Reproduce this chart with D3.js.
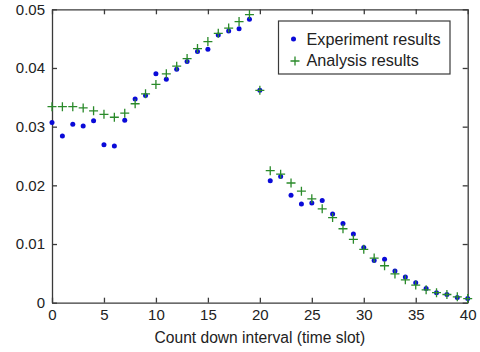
<!DOCTYPE html>
<html>
<head>
<meta charset="utf-8">
<script src="https://cdn.jsdelivr.net/npm/d3@7"></script>
<style>
  body { margin: 0; background: #fff; overflow: hidden; }
  svg { display: block; font-family: "Liberation Sans", Arial, sans-serif; }
</style>
</head>
<body>
<svg width="480" height="352"></svg>
<script>
const slots = d3.range(0, 41);
const experiment = [
    0.0307, 0.0284, 0.0304, 0.0301, 0.0310, 0.0269, 0.0267, 0.0311, 0.0347, 0.0353,
    0.0390, 0.0381, 0.0398, 0.0411, 0.0428, 0.0432, 0.0456, 0.0463, 0.0467, 0.0483,
    0.0362, 0.0208, 0.0215, 0.0183, 0.0168, 0.0170, 0.0174, 0.0151, 0.0135, 0.0117,
    0.0094, 0.0072, 0.0074, 0.0054, 0.0044, 0.0034, 0.0024, 0.0017, 0.0014, 0.0009,
    0.0007
];
const analysis = [
    0.0334, 0.0334, 0.0334, 0.0332, 0.0327, 0.0321, 0.0316, 0.0323, 0.0339, 0.0356,
    0.0372, 0.0390, 0.0403, 0.0416, 0.0433, 0.0445, 0.0459, 0.0468, 0.0479, 0.0491,
    0.0362, 0.0225, 0.0219, 0.0204, 0.0190, 0.0177, 0.0160, 0.0145, 0.0126, 0.0108,
    0.0091, 0.0076, 0.0063, 0.0049, 0.0039, 0.0030, 0.0022, 0.0017, 0.0014, 0.0010,
    0.0007
];
const xTicks = [0, 5, 10, 15, 20, 25, 30, 35, 40];
const yTicks = [0, 0.01, 0.02, 0.03, 0.04, 0.05];
const yTickLabels = ['0', '0.01', '0.02', '0.03', '0.04', '0.05'];
const seriesNames = ['Experiment results', 'Analysis results'];

const svg = d3.select('svg');
const width = Number(svg.attr('width')), height = Number(svg.attr('height'));
const margin = { left: 52, right: 12.3, top: 9.3, bottom: 49.3 };
const innerWidth = width - (margin.left + margin.right);
const innerHeight = height - (margin.top + margin.bottom);

const blue = '#0a0ad8', green = '#2a8a2a', axisColor = '#3a3a3a';

const xScale = d3.scaleLinear().domain([0, 40]).range([0, innerWidth]);
const yScale = d3.scaleLinear().domain([0, 0.05]).range([innerHeight, 0]);

const g = svg.append('g')
    .attr('transform', `translate(${margin.left},${margin.top})`);

const styleAxis = sel => {
    sel.attr('font-family', null).attr('font-size', 15);
    sel.selectAll('path, line').attr('stroke', axisColor).attr('stroke-width', 1.3);
    sel.selectAll('text').attr('fill', '#222');
};
// top/right axes carry ticks only
const noLabels = sel => sel.selectAll('text').remove();

g.append('g').attr('transform', `translate(0,${innerHeight})`)
    .call(d3.axisBottom(xScale).tickValues(xTicks).tickSizeInner(-5).tickSizeOuter(0).tickPadding(7))
    .call(styleAxis);
g.append('g')
    .call(d3.axisTop(xScale).tickValues(xTicks).tickSizeInner(-5).tickSizeOuter(0))
    .call(styleAxis).call(noLabels);
g.append('g')
    .call(d3.axisLeft(yScale).tickValues(yTicks).tickSizeInner(-5).tickSizeOuter(0).tickPadding(7)
        .tickFormat((d, i) => yTickLabels[i]))
    .call(styleAxis);
g.append('g').attr('transform', `translate(${innerWidth},0)`)
    .call(d3.axisRight(yScale).tickValues(yTicks).tickSizeInner(-5).tickSizeOuter(0))
    .call(styleAxis).call(noLabels);

// experiment dots
g.selectAll('circle.exp').data(slots)
    .enter().append('circle')
        .attr('class', 'exp')
        .attr('cx', d => xScale(d))
        .attr('cy', d => yScale(experiment[d]))
        .attr('r', 2.5)
        .attr('fill', blue);

// analysis crosses
const plus = (sel, s) => sel.attr('d', `M${-s},0H${s}M0,${-s}V${s}`)
    .attr('stroke', green).attr('stroke-width', 1.3).attr('fill', 'none');
g.selectAll('path.ana').data(slots)
    .enter().append('path')
        .attr('class', 'ana')
        .attr('transform', d => `translate(${xScale(d)},${yScale(analysis[d])})`)
        .call(plus, 4.5);

svg.append('text')
    .attr('x', margin.left + innerWidth / 2)
    .attr('y', 343)
    .attr('text-anchor', 'middle')
    .attr('fill', '#222')
    .attr('font-size', 15.6)
    .text('Count down interval (time slot)');

// legend
const legend = svg.append('g').attr('transform', 'translate(278.5,21)');
legend.append('rect')
    .attr('width', 171.5).attr('height', 53)
    .attr('fill', '#fff').attr('stroke', axisColor).attr('stroke-width', 1.2);
legend.append('circle').attr('cx', 15).attr('cy', 18).attr('r', 2.5).attr('fill', blue);
legend.append('path').attr('transform', 'translate(16.5,40)').call(plus, 4.5);
legend.selectAll('text').data(seriesNames)
    .enter().append('text')
        .attr('x', 28)
        .attr('y', (d, i) => 23.5 + i * 21.4)
        .attr('fill', '#222')
        .attr('font-size', 16.2)
        .text(d => d);
</script>
</body>
</html>
